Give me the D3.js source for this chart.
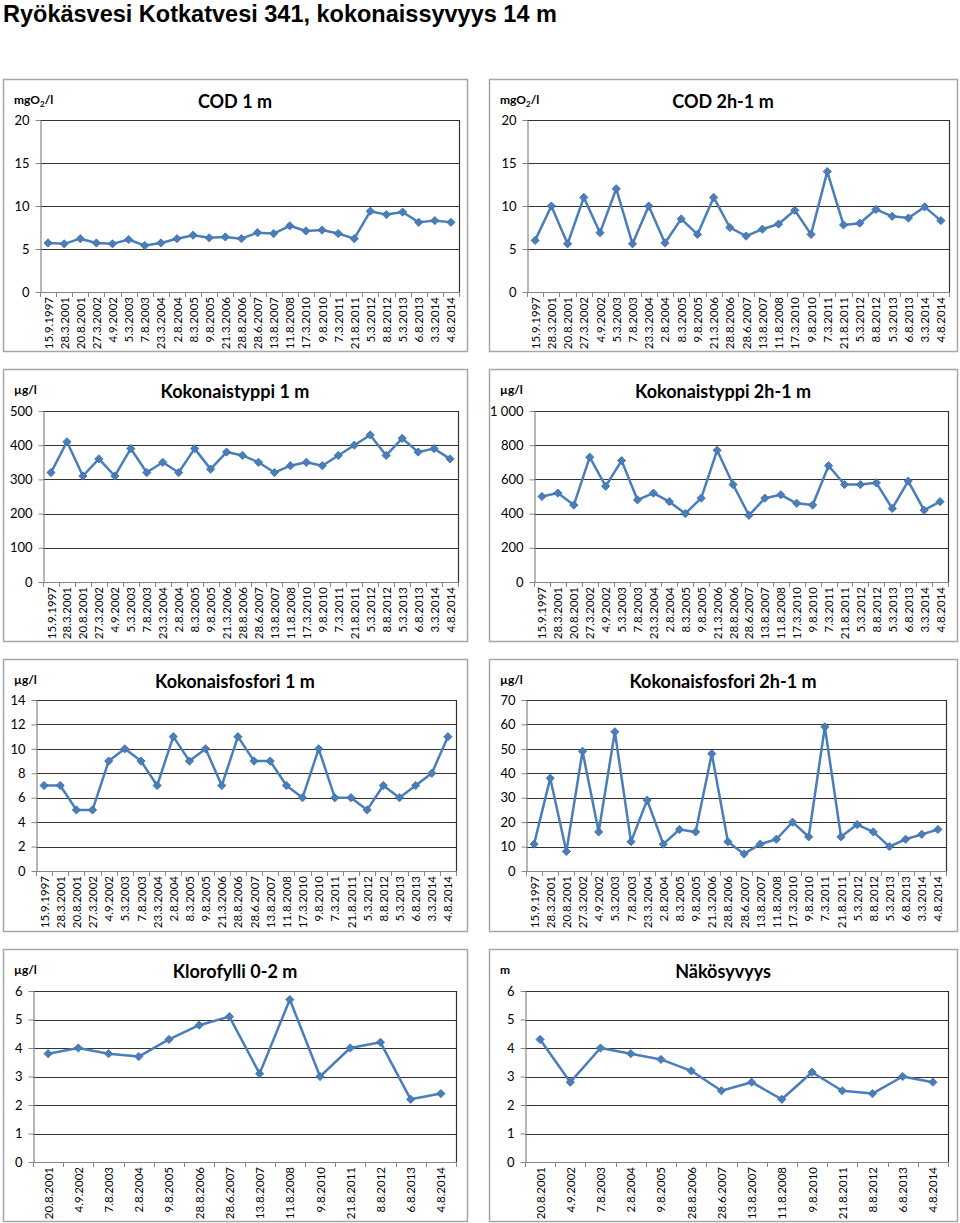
<!DOCTYPE html>
<html>
<head>
<meta charset="utf-8">
<script src="https://cdn.jsdelivr.net/npm/d3@7"></script>
<style>
  html, body { margin: 0; padding: 0; background: #fff; }
  svg { display: block; }
</style>
</head>
<body>
<svg id="chart" width="960" height="1223"></svg>
<script>
// ---------------- DATA ----------------
const mainTitle = "Ryökäsvesi Kotkatvesi 341, kokonaissyvyys 14 m";

const dates26 = ["15.9.1997","28.3.2001","20.8.2001","27.3.2002","4.9.2002","5.3.2003","7.8.2003",
  "23.3.2004","2.8.2004","8.3.2005","9.8.2005","21.3.2006","28.8.2006","28.6.2007","13.8.2007",
  "11.8.2008","17.3.2010","9.8.2010","7.3.2011","21.8.2011","5.3.2012","8.8.2012","5.3.2013",
  "6.8.2013","3.3.2014","4.8.2014"];
const dates14 = ["20.8.2001","4.9.2002","7.8.2003","2.8.2004","9.8.2005","28.8.2006","28.6.2007",
  "13.8.2007","11.8.2008","9.8.2010","21.8.2011","8.8.2012","6.8.2013","4.8.2014"];

const cod1 = [5.7,5.6,6.2,5.7,5.6,6.1,5.4,5.7,6.2,6.6,6.3,6.4,6.2,6.9,6.8,7.7,7.1,7.2,6.8,6.2,9.4,9.0,9.3,8.1,8.3,8.1];
const cod2 = [6.0,10.0,5.6,11.0,6.9,12.0,5.6,10.0,5.7,8.5,6.7,11.0,7.5,6.5,7.3,7.9,9.5,6.7,14.0,7.8,8.0,9.6,8.8,8.6,9.9,8.3];
const ntot1 = [320,410,310,360,310,390,320,350,320,390,330,380,370,350,320,340,350,340,370,400,430,370,420,380,390,360];
const ntot2 = [500,520,450,730,560,710,480,520,470,400,490,770,570,390,490,510,460,450,680,570,570,580,430,590,420,470];
const ptot1 = [7,7,5,5,9,10,9,7,11,9,10,7,11,9,9,7,6,10,6,6,5,7,6,7,8,11];
const ptot2 = [11,38,8,49,16,57,12,29,11,17,16,48,12,7,11,13,20,14,59,14,19,16,10,13,15,17];
const chla = [3.8,4.0,3.8,3.7,4.3,4.8,5.1,3.1,5.7,3.0,4.0,4.2,2.2,2.4];
const secchi = [4.3,2.8,4.0,3.8,3.6,3.2,2.5,2.8,2.2,3.15,2.5,2.4,3.0,2.8];

const panelTitles = ["COD 1 m","COD 2h-1 m","Kokonaistyppi 1 m","Kokonaistyppi 2h-1 m",
  "Kokonaisfosfori 1 m","Kokonaisfosfori 2h-1 m","Klorofylli 0-2 m","Näkösyvyys"];
const units = ["mgO2/l","mgO2/l","µg/l","µg/l","µg/l","µg/l","µg/l","m"];
const yMax = [20,20,500,1000,14,70,6,6];
const yStep = [5,5,100,200,2,10,1,1];
const seriesList = [cod1,cod2,ntot1,ntot2,ptot1,ptot2,chla,secchi];
const categoryList = [dates26,dates26,dates26,dates26,dates26,dates26,dates14,dates14];

// ---------------- LAYOUT ----------------
const boxCols = [{x:3,w:464},{x:489,w:468}];
const boxRows = [79,369,659,949];
const boxH = 272;
const plotAreas = [
  {l:40,r:459,t:120,b:292},{l:527,r:949,t:120,b:292},
  {l:43,r:458,t:411,b:582},{l:534,r:948,t:411,b:582},
  {l:36,r:456,t:700,b:871},{l:526,r:946,t:700,b:871},
  {l:33,r:456,t:991,b:1162},{l:525,r:948,t:991,b:1162}
];

const lineColor = "#4a7ebb";
const fiLocale = d3.formatLocale({decimal: ",", thousands: "\u00a0", grouping: [3], currency: ["", " €"]});
const fmt = fiLocale.format(",d");

const svg = d3.select("#chart");

svg.append("text")
  .attr("x", 3).attr("y", 22)
  .attr("font-family", "'Liberation Sans', Arial, sans-serif")
  .attr("font-weight", "bold")
  .attr("font-size", 23.5)
  .attr("fill", "#000")
  .text(mainTitle);

panelTitles.forEach((title, i) => {
  const col = boxCols[i % 2];
  const by = boxRows[Math.floor(i / 2)];
  const pa = plotAreas[i];
  const cats = categoryList[i];
  const vals = seriesList[i];
  const g = svg.append("g");

  g.append("rect")
    .attr("x", col.x + 0.5).attr("y", by + 0.5)
    .attr("width", col.w).attr("height", boxH)
    .attr("fill", "#fff").attr("stroke", "#a6a6a6").attr("stroke-width", 1.5);

  // unit label
  const ut = g.append("text")
    .attr("x", col.x + 11).attr("y", by + 25)
    .attr("font-family", "Lato, 'Open Sans', sans-serif")
    .attr("font-weight", "bold")
    .attr("font-size", 12)
    .attr("fill", "#000");
  const u = units[i];
  if (u.indexOf("O2") >= 0) {
    ut.append("tspan").text("mgO");
    ut.append("tspan").attr("font-size", 8).attr("dy", 3).text("2");
    ut.append("tspan").attr("dy", -3).text("/l");
  } else {
    ut.text(u);
  }

  // title
  g.append("text")
    .attr("x", col.x + col.w / 2).attr("y", by + 29)
    .attr("text-anchor", "middle")
    .attr("font-family", "Lato, 'Open Sans', sans-serif")
    .attr("font-weight", "bold")
    .attr("font-size", 18)
    .attr("fill", "#000")
    .text(title);

  const x = d3.scaleBand().domain(cats).range([pa.l, pa.r]);
  const y = d3.scaleLinear().domain([0, yMax[i]]).range([pa.b, pa.t]);
  const ticks = d3.range(0, yMax[i] + yStep[i] / 2, yStep[i]);

  // gridlines
  g.selectAll(".grid").data(ticks.filter(t => t > 0)).enter().append("line")
    .attr("x1", pa.l).attr("x2", pa.r)
    .attr("y1", d => Math.round(y(d)) + 0.5).attr("y2", d => Math.round(y(d)) + 0.5)
    .attr("stroke", "#333").attr("stroke-width", 1.2);
  // right border of plot area
  g.append("line")
    .attr("x1", pa.r + 0.5).attr("x2", pa.r + 0.5)
    .attr("y1", y(yMax[i])).attr("y2", y(0))
    .attr("stroke", "#333").attr("stroke-width", 1.2);

  // y axis
  const yAxis = d3.axisLeft(y).tickValues(ticks).tickSize(5).tickSizeOuter(0).tickPadding(6)
    .tickFormat(d => fmt(d));
  const ya = g.append("g").attr("transform", `translate(${pa.l + 0.5},0)`).call(yAxis);
  ya.select(".domain").attr("stroke", "#868686").attr("stroke-width", 1.2);
  ya.selectAll(".tick line").attr("stroke", "#868686");
  ya.selectAll(".tick text")
    .attr("font-family", "Lato, 'Open Sans', sans-serif")
    .attr("font-size", 13).attr("fill", "#000");

  // x axis baseline
  g.append("line")
    .attr("x1", pa.l).attr("x2", pa.r)
    .attr("y1", Math.round(y(0)) + 0.5).attr("y2", Math.round(y(0)) + 0.5)
    .attr("stroke", "#868686").attr("stroke-width", 1.2);
  // x tick marks at category boundaries
  const bounds = cats.map(c => x(c)).concat([x(cats[cats.length - 1]) + x.bandwidth()]);
  g.selectAll(".xt").data(bounds).enter().append("line")
    .attr("x1", d => Math.round(d) + 0.5).attr("x2", d => Math.round(d) + 0.5)
    .attr("y1", y(0)).attr("y2", y(0) + 5)
    .attr("stroke", "#868686").attr("stroke-width", 1);
  // x labels rotated
  g.selectAll(".xl").data(cats).enter().append("text")
    .attr("transform", d => `translate(${x(d) + x.bandwidth() / 2 + 0.5},${y(0) + 5}) rotate(-90)`)
    .attr("text-anchor", "end")
    .attr("dy", "0.35em")
    .attr("font-family", "Lato, 'Open Sans', sans-serif")
    .attr("font-size", 11.5)
    .attr("fill", "#000")
    .text(d => d);

  // line
  const pts = cats.map((c, k) => ({c, v: vals[k]}));
  const line = d3.line().x(d => x(d.c) + x.bandwidth() / 2).y(d => y(d.v));
  g.append("path").datum(pts)
    .attr("d", line)
    .attr("fill", "none")
    .attr("stroke", lineColor)
    .attr("stroke-width", 2.5)
    .attr("stroke-linejoin", "round");

  const sym = d3.symbol().type(d3.symbolSquare).size(34);
  g.selectAll(".mk").data(pts).enter().append("path")
    .attr("d", sym)
    .attr("transform", d => `translate(${x(d.c) + x.bandwidth() / 2},${y(d.v)}) rotate(45)`)
    .attr("fill", lineColor)
    .attr("stroke", "#3f70aa")
    .attr("stroke-width", 0.8);
});
</script>
</body>
</html>
